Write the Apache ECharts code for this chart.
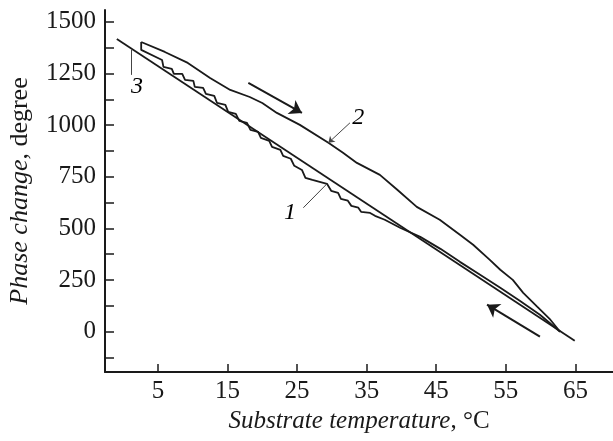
<!DOCTYPE html>
<html>
<head>
<meta charset="utf-8">
<script src="https://cdn.jsdelivr.net/npm/echarts@6/dist/echarts.min.js"></script>
<style>
  html, body { margin: 0; padding: 0; background: #fff; }
  #chart { width: 613px; height: 441px; }
</style>
</head>
<body>
<div id="chart"></div>
<script>
// curve 1: cooling, stepwise (temperature, phase change)
const coolTemp = [2.6, 2.6, 5.6, 5.8, 7.0, 7.3, 8.5, 8.9, 10.1, 10.3, 11.5, 11.9, 13.1, 13.5, 14.7, 15.1,
  16.2, 16.7, 17.8, 18.3, 19.4, 19.8, 21.0, 21.4, 22.6, 23.0, 24.1, 24.6, 25.7, 26.2, 27.2, 29.3,
  29.9, 30.9, 31.3, 32.3, 32.8, 33.8, 34.2, 35.5, 36.2, 37.6, 39.8, 42.7, 45.6, 48.4, 51.3, 54.2,
  57.0, 59.9, 62.8]
const coolPhase = [1402, 1364, 1315, 1282, 1272, 1248, 1248, 1219, 1214, 1185, 1180, 1151, 1141, 1107, 1098, 1064,
  1054, 1020, 1011, 977, 967, 938, 924, 895, 880, 851, 837, 803, 783, 745, 735, 716,
  682, 672, 643, 634, 609, 600, 580, 575, 561, 542, 503, 459, 401, 338, 276, 213,
  150, 82, 0]
// curve 2: heating
const heatTemp = [2.6, 6.0, 9.3, 12.5, 15.4, 18.2, 20.0, 22.1, 25.4, 29.5, 31.6, 33.6, 36.9, 39.4, 42.2,
  45.5, 48.4, 50.3, 52.7, 54.2, 56.0, 57.5, 59.5, 61.4, 62.8]
const heatPhase = [1402, 1354, 1301, 1228, 1170, 1136, 1107, 1059, 1001, 914, 866, 817, 759, 687, 604,
  542, 469, 421, 348, 300, 251, 188, 121, 58, 0]
// curve 3: straight reference line
const lineTemp = [-0.9, 64.9]
const linePhase = [1417, -44]

const xTicks = [5, 15, 25, 35, 45, 55, 65]
const yTicks = [-125, 0, 125, 250, 375, 500, 625, 750, 875, 1000, 1125, 1250, 1375, 1500]
const yLabels = [0, 250, 500, 750, 1000, 1250, 1500]

// curve labels and leader lines
const curveLabels = [
  { name: '1', x: 24.0, y: 575 },
  { name: '2', x: 33.8, y: 1035 },
  { name: '3', x: 2.0, y: 1185 }
]
const leaders = [
  [[25.9, 600], [29.3, 716]],
  [[32.6, 1011], [29.5, 914]],
  [[1.15, 1364], [1.15, 1243]]
]
// direction arrows
const arrows = [
  [[18.0, 1204], [25.7, 1059]],
  [[59.9, -24], [52.3, 131]]
]

const ink = '#1a1a1a'
const serif = '"Liberation Serif", "DejaVu Serif", serif'

const zip = (xs, ys) => xs.map((x, i) => [x, ys[i]])

const chart = echarts.init(document.getElementById('chart'))

const lineSeries = (data) => ({
  type: 'line',
  data: data,
  showSymbol: false,
  symbol: 'none',
  lineStyle: { color: ink, width: 1.8 },
  silent: true,
  animation: false
})

// build a markLine pair
const segment = (pts, endSymbol, size, style) => [
  { coord: pts[0], symbol: 'none', lineStyle: style },
  { coord: pts[1], symbol: endSymbol, symbolSize: size }
]

const arrowStyle = { color: ink, width: 2, type: 'solid' }
const leaderStyle = { color: '#444', width: 1, type: 'solid' }

chart.setOption({
  animation: false,
  grid: { left: 105, right: 0, top: 10, bottom: 69, outerBoundsMode: 'none' },
  xAxis: {
    type: 'value',
    min: -2.6,
    max: 70.4,
    name: '{i|Substrate temperature}, °C',
    nameLocation: 'middle',
    nameGap: 30,
    nameTextStyle: {
      fontFamily: serif, fontSize: 25, color: ink,
      rich: { i: { fontFamily: serif, fontSize: 25, fontStyle: 'italic', color: ink } }
    },
    axisLine: { onZero: false, lineStyle: { color: ink, width: 2 } },
    axisTick: { inside: true, length: 8, customValues: xTicks, lineStyle: { color: ink, width: 1.5 } },
    axisLabel: { customValues: xTicks, margin: 7, fontFamily: serif, fontSize: 25, color: ink },
    splitLine: { show: false }
  },
  yAxis: {
    type: 'value',
    min: -195,
    max: 1557,
    name: '{i|Phase change}, degree',
    nameLocation: 'middle',
    nameGap: 72,
    nameTextStyle: {
      fontFamily: serif, fontSize: 26, color: ink,
      rich: { i: { fontFamily: serif, fontSize: 26, fontStyle: 'italic', color: ink } }
    },
    axisLine: { onZero: false, lineStyle: { color: ink, width: 2 } },
    axisTick: { inside: true, length: 9, customValues: yTicks, lineStyle: { color: ink, width: 1.5 } },
    axisLabel: {
      customValues: yLabels, margin: 9, fontFamily: serif, fontSize: 25, color: ink,
      formatter: v => String(v)
    },
    splitLine: { show: false }
  },
  series: [
    lineSeries(zip(coolTemp, coolPhase)),
    lineSeries(zip(heatTemp, heatPhase)),
    Object.assign(lineSeries(zip(lineTemp, linePhase)), {
      markLine: {
        silent: true,
        animation: false,
        label: { show: false },
        data: arrows.map(a => segment(a, 'arrow', 12, arrowStyle))
          .concat(leaders.map((l, i) => segment(l, i === 1 ? 'arrow' : 'none', 6, leaderStyle)))
      }
    }),
    {
      type: 'scatter',
      symbolSize: 0,
      silent: true,
      data: curveLabels.map(d => ({ value: [d.x, d.y], name: d.name })),
      label: {
        show: true,
        position: 'inside',
        formatter: p => p.name,
        fontFamily: serif,
        fontStyle: 'italic',
        fontSize: 24,
        color: '#000',
        opacity: 1
      }
    }
  ]
})
</script>
</body>
</html>
